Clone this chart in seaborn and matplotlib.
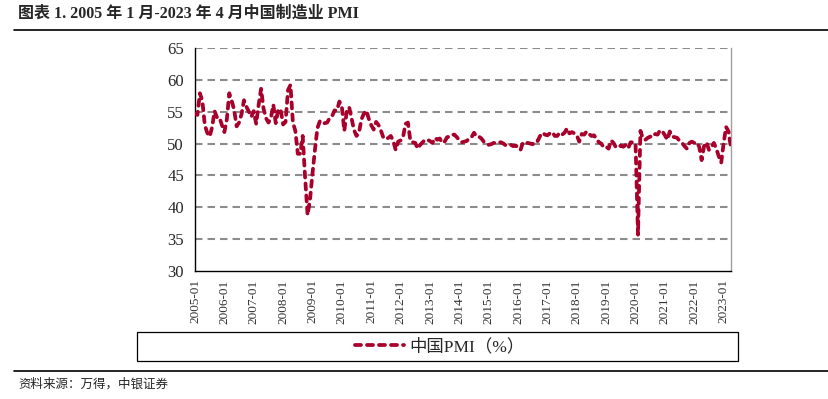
import pandas as pd
import seaborn as sns
import matplotlib.pyplot as plt
from matplotlib.lines import Line2D
from matplotlib.patches import Rectangle


# monthly manufacturing PMI, 2005-01 .. 2023-04
pmi = [
    54.7, 54.5, 57.9, 56.7, 52.9, 51.7, 51.1, 52.6, 55.1, 54.1, 54.1, 52.9,  # 2005
    51.8, 53.8, 57.9, 56.7, 55.3, 52.7, 53.3, 54.6, 56.8, 55.8, 55.0, 54.2,  # 2006
    55.1, 53.1, 56.1, 58.6, 55.5, 54.0, 53.3, 54.0, 56.1, 53.2, 55.4, 55.3,  # 2007
    53.0, 53.4, 58.4, 59.2, 53.3, 52.0, 48.4, 48.4, 51.2, 44.6, 38.8, 41.2,  # 2008
    45.3, 49.0, 52.4, 53.5, 53.1, 53.2, 53.3, 54.0, 54.3, 55.2, 55.2, 56.6,  # 2009
    55.8, 52.0, 55.1, 55.7, 53.9, 52.1, 51.2, 51.7, 53.8, 54.7, 55.2, 53.9,  # 2010
    52.9, 52.2, 53.4, 52.9, 52.0, 50.9, 50.7, 50.9, 51.2, 50.4, 49.0, 50.3,  # 2011
    50.5, 51.0, 53.1, 53.3, 50.4, 50.2, 50.1, 49.2, 49.8, 50.2, 50.6, 50.6,  # 2012
    50.4, 50.1, 50.9, 50.6, 50.8, 50.1, 50.3, 51.0, 51.1, 51.4, 51.4, 51.0,  # 2013
    50.5, 50.2, 50.3, 50.4, 50.8, 51.0, 51.7, 51.1, 51.1, 50.8, 50.3, 50.1,  # 2014
    49.8, 49.9, 50.1, 50.1, 50.2, 50.2, 50.0, 49.7, 49.8, 49.8, 49.6, 49.7,  # 2015
    49.4, 49.0, 50.2, 50.1, 50.1, 50.0, 49.9, 50.4, 50.4, 51.2, 51.7, 51.4,  # 2016
    51.3, 51.6, 51.8, 51.2, 51.2, 51.7, 51.4, 51.7, 52.4, 51.6, 51.8, 51.6,  # 2017
    51.3, 50.3, 51.5, 51.4, 51.9, 51.5, 51.2, 51.3, 50.8, 50.2, 50.0, 49.4,  # 2018
    49.5, 49.2, 50.5, 50.1, 49.4, 49.4, 49.7, 49.5, 49.8, 49.3, 50.2, 50.2,  # 2019
    50.0, 35.7, 52.0, 50.8, 50.6, 50.9, 51.1, 51.0, 51.5, 51.4, 52.1, 51.9,  # 2020
    51.3, 50.6, 51.9, 51.1, 51.0, 50.9, 50.4, 50.1, 49.6, 49.2, 50.1, 50.3,  # 2021
    50.1, 50.2, 49.5, 47.4, 49.6, 50.2, 49.0, 49.4, 50.1, 49.2, 48.0, 47.0,  # 2022
    50.1, 52.6, 51.9, 49.2,                                                  # 2023
]
years = list(range(2005, 2024))
tick_labels = [f'{y}-01' for y in years]
y_ticks = [30, 35, 40, 45, 50, 55, 60, 65]

df = pd.DataFrame({'month': range(len(pmi)), 'pmi': pmi})

sns.set_style('white')
plt.rcParams['font.family'] = ['Liberation Serif', 'Noto Sans CJK SC', 'DejaVu Sans']

W, H = 829, 399
fig = plt.figure(figsize=(W / 100, H / 100), dpi=100)
ax = fig.add_axes([195 / W, 1 - 271 / H, (731 - 195) / W, (271 - 48) / H])

# dashed grey grid
for v in y_ticks[1:]:
    ax.axhline(v, color='#8c8c8c', lw=1.5, linestyle=(0, (3.6, 2.4)), zorder=1)

sns.lineplot(data=df, x='month', y='pmi', ax=ax, color='#a8002a', lw=2.7,
             linestyle=(0, (1.6, 1.6)), dash_capstyle='round',
             label='中国PMI（%）', zorder=3)

ax.set_xlim(0, 219)
ax.set_ylim(30, 65)
ax.set_yticks(y_ticks)
ax.set_xticks([12 * i for i in range(len(years))])
ax.set_xticklabels(tick_labels, rotation=90, fontsize=9.5, color='#333333')
ax.tick_params(axis='y', labelsize=12, direction='out', length=5, width=1, pad=3)
ax.tick_params(axis='x', direction='out', length=4, width=1, pad=2)
ax.set_xlabel('')
ax.set_ylabel('')

for s in ['left', 'bottom']:
    ax.spines[s].set_color('black')
    ax.spines[s].set_linewidth(1)
ax.spines['right'].set_color('#a0a0a0')
ax.spines['right'].set_linewidth(1)
ax.spines['top'].set_visible(False)

handles, labels = ax.get_legend_handles_labels()
ax.get_legend().remove()
fig.add_artist(Rectangle((137 / W, 1 - 361 / H), (738 - 137) / W, 29 / H,
                         transform=fig.transFigure, fill=False,
                         edgecolor='black', lw=0.9))
fig.legend(handles, labels, loc='center', bbox_to_anchor=(440 / W, 1 - 347 / H),
           frameon=False, fontsize=12.5, handlelength=2.8, handletextpad=0.3)

# title, rules and source note
fig.text(18 / W, 1 - 14 / H, '图表 1. 2005 年 1 月-2023 年 4 月中国制造业 PMI',
         fontsize=11.5, fontweight='bold', va='center', ha='left')
fig.add_artist(Line2D([14 / W, 1], [1 - 30 / H] * 2, color='black', lw=1.2))
fig.add_artist(Line2D([14 / W, 1], [1 - 371 / H] * 2, color='black', lw=1.2))
fig.text(18 / W, 1 - 384 / H, '资料来源：万得，中银证券', fontsize=9,
         style='italic', va='center', ha='left')

fig.savefig('out.png', dpi=100)
